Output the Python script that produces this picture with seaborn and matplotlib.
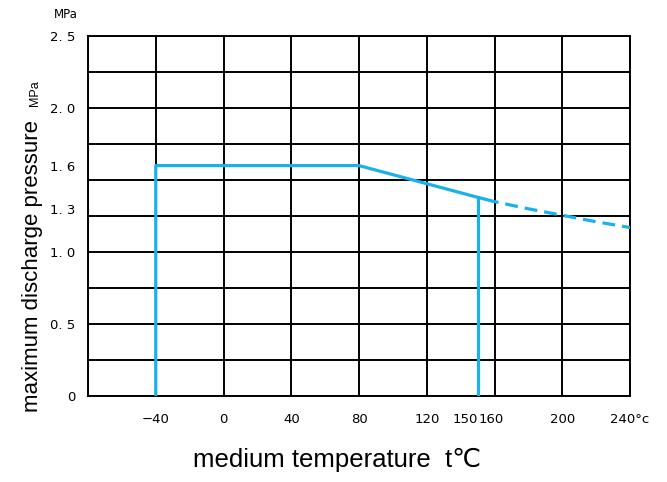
import numpy as np
import pandas as pd
import matplotlib.pyplot as plt
import matplotlib.transforms as mtransforms
import seaborn as sns

# rated curve
solid_t = [-40, -40, 80, 150, 155]
solid_p = [0, 1.6, 1.6, 1.38, 1.365]
dash_t = [155, 160, 180, 200, 220, 240]
dash_p = [1.365, 1.35, 1.30, 1.255, 1.21, 1.17]
limit_t = [150, 150]
limit_p = [0, 1.38]

xtick_vals = [-40, 0, 40, 80, 120, 150, 160, 200, 240]
xtick_labels = ['\u221240', '0', '40', '80', '120', '150', '160', '200', '240\u00b0c']
ytick_vals = [0, 0.5, 1.0, 1.3, 1.6, 2.0, 2.5]
ytick_labels = ['0', '0. 5', '1. 0', '1. 3', '1. 6', '2. 0', '2. 5']
xgrid = np.arange(-80, 241, 40)
ygrid = np.arange(0, 2.51, 0.25)

sns.set_style('white')
plt.rcParams['font.family'] = ['Liberation Sans', 'DejaVu Sans']
plt.rcParams['text.color'] = 'black'
plt.rcParams['xtick.color'] = 'black'
plt.rcParams['ytick.color'] = 'black'

fig = plt.figure(figsize=(6.67, 4.82), dpi=100)
ax = fig.add_axes([88 / 667, 86 / 482, 542 / 667, 360 / 482])

blue = '#1ab0ec'
df_solid = pd.DataFrame({'t': solid_t, 'p': solid_p})
df_dash = pd.DataFrame({'t': dash_t, 'p': dash_p})
df_lim = pd.DataFrame({'t': limit_t, 'p': limit_p})
sns.lineplot(data=df_solid, x='t', y='p', sort=False, estimator=None, color=blue,
             lw=2.3, ax=ax, zorder=3)
sns.lineplot(data=df_lim, x='t', y='p', sort=False, estimator=None, color=blue,
             lw=2.3, ax=ax, zorder=3)
sns.lineplot(data=df_dash, x='t', y='p', sort=False, estimator=None, color=blue,
             lw=2.3, ax=ax, zorder=3)
ax.lines[-1].set_dashes((4, 2.2))

ax.set_xlim(-80, 240)
ax.set_ylim(0, 2.5)

# grid
ax.xaxis.remove_overlapping_locs = False
ax.yaxis.remove_overlapping_locs = False
ax.set_xticks(xgrid, minor=True)
ax.set_yticks(ygrid, minor=True)
ax.grid(which='minor', color='black', lw=1.4)
ax.grid(which='major', visible=False)
ax.tick_params(which='minor', length=0)

ax.set_xticks(xtick_vals)
ax.set_xticklabels(xtick_labels, family=['DejaVu Sans'], fontsize=9.5)
ax.set_yticks(ytick_vals)
ax.set_yticklabels(ytick_labels, family=['DejaVu Sans'], fontsize=9.5)
ax.tick_params(axis='x', which='major', length=0, pad=12)
ax.tick_params(axis='y', which='major', length=16, width=1.2, direction='inout',
               color='black', pad=1)
for val, tk in zip(ytick_vals, ax.yaxis.get_major_ticks()):
    if val not in (1.3, 1.6):
        tk.tick1line.set_visible(False)

# nudge the crowded 150/160 labels apart
for lab in ax.get_xticklabels():
    if lab.get_text() == '150':
        lab.set_transform(lab.get_transform() + mtransforms.ScaledTranslation(-12 / 100, 0, fig.dpi_scale_trans))
    if lab.get_text() == '160':
        lab.set_transform(lab.get_transform() + mtransforms.ScaledTranslation(-3 / 100, 0, fig.dpi_scale_trans))

for s in ax.spines.values():
    s.set_color('black')
    s.set_linewidth(1.4)

ax.set_xlabel('')
ax.set_ylabel('')

fig.text(78 / 667, 1 - 15 / 482, 'MPa', ha='right', va='center', fontsize=8.5,
         family=['DejaVu Sans'])
fig.text(38 / 667, 1 - 412 / 482, 'maximum discharge pressure', rotation=90,
         rotation_mode='anchor', ha='left', va='baseline', fontsize=16)
fig.text(38 / 667, 1 - 80 / 482, 'MPa', rotation=90, rotation_mode='anchor',
         ha='right', va='baseline', fontsize=9)
fig.text(337 / 667, 1 - 467 / 482, 'medium temperature  t\u2103', ha='center',
         va='baseline', fontsize=18.5)

fig.savefig('out.png', dpi=100)
